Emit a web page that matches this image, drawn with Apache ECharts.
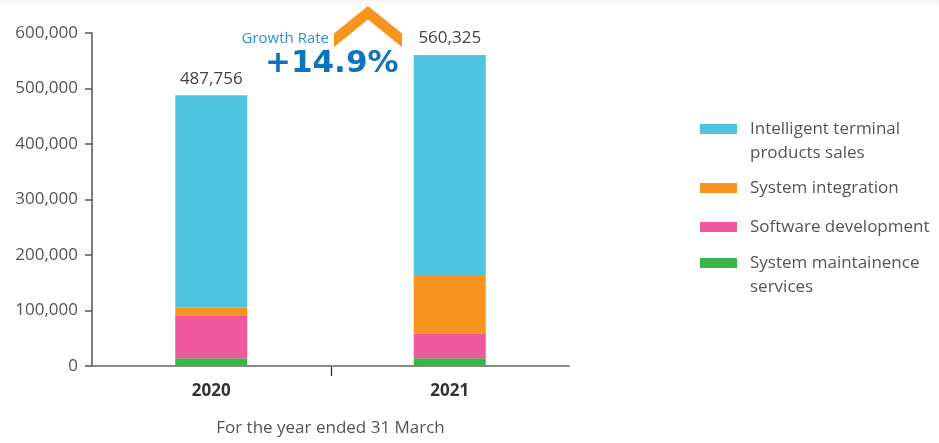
<!DOCTYPE html>
<html>
<head>
<meta charset="utf-8">
<script src="https://cdn.jsdelivr.net/npm/echarts@6/dist/echarts.min.js"></script>
<style>
  html, body { margin: 0; padding: 0; background: #fff; }
  #chart { width: 939px; height: 443px; }
</style>
</head>
<body>
<div id="chart"></div>
<script>
// data
var years = ['2020', '2021'];
var totals = [487756, 560325];
var maintenance = [14000, 14000];
var software = [76000, 45000];
var integration = [15000, 103000];
var terminal = [382756, 398325];   // total minus the three lower parts
var yTicks = [0, 100000, 200000, 300000, 400000, 500000, 600000];

var seriesNames = ['System maintainence services', 'Software development', 'System integration', 'Intelligent terminal products sales'];
var legendLabels = ['System maintainence\nservices', 'Software development', 'System integration', 'Intelligent terminal\nproducts sales'];
var colors = ['#3bb54a', '#ef5a9f', '#f7941d', '#4fc4e0'];

var font = '"Open Sans", "Noto Sans", sans-serif';
var growth = '+' + ((totals[1] / totals[0] - 1) * 100).toFixed(1) + '%';

function fmt(v) { return v.toLocaleString('en-US'); }

var myChart = echarts.init(document.getElementById('chart'), null, { renderer: 'canvas' });

var values = [maintenance, software, integration, terminal];
var series = values.map(function (d, i) {
    var s = {
        name: seriesNames[i],
        type: 'bar',
        stack: 'total',
        barWidth: 72,
        data: d,
        itemStyle: { color: colors[i] },
        emphasis: { disabled: true }
    };
    if (i === values.length - 1) {
        s.label = {
            show: true,
            position: 'top',
            distance: 8,
            fontFamily: font,
            fontSize: 17,
            color: '#444',
            formatter: function (p) { return fmt(totals[p.dataIndex]); }
        };
    }
    return s;
});

// one legend per item; two-line entries get an empty first line so the
// icon sits level with the first real line
var legendOrder = [3, 2, 1, 0];
var legendIconY = [129, 188, 227, 263];
var legends = legendOrder.map(function (idx, k) {
    var twoLines = legendLabels[idx].indexOf('\n') >= 0;
    return {
        orient: 'vertical',
        left: 700,
        top: legendIconY[k] - (twoLines ? 36 : 12),
        padding: 0,
        icon: 'rect',
        itemWidth: 37,
        itemHeight: 10,
        itemGap: 0,
        selectedMode: false,
        data: [seriesNames[idx]],
        formatter: function () { return (twoLines ? '\n' : '') + legendLabels[idx]; },
        textStyle: {
            fontFamily: font,
            fontSize: 17,
            color: '#555',
            lineHeight: 24,
            padding: [0, 0, 0, 8]
        }
    };
});

var option = {
    animation: false,
    backgroundColor: '#fff',
    grid: { left: 92, width: 477, top: 33, height: 333, containLabel: false },
    legend: legends,
    xAxis: {
        type: 'category',
        data: years,
        boundaryGap: true,
        name: 'For the year ended 31 March',
        nameLocation: 'middle',
        nameGap: 54,
        nameTextStyle: { fontFamily: font, fontSize: 17, color: '#555' },
        axisLine: { lineStyle: { color: '#8a8a8a', width: 2 } },
        axisTick: { show: false },
        axisLabel: {
            margin: 17,
            fontFamily: font,
            fontSize: 17,
            fontWeight: 'bold',
            color: '#333'
        }
    },
    yAxis: {
        type: 'value',
        min: yTicks[0],
        max: yTicks[yTicks.length - 1],
        interval: yTicks[1] - yTicks[0],
        splitLine: { show: false },
        axisLine: { show: true, lineStyle: { color: '#555', width: 1.5 } },
        axisTick: { show: true, length: 7, lineStyle: { color: '#555', width: 1.5 } },
        axisLabel: {
            margin: 14,
            fontFamily: font,
            fontSize: 17,
            color: '#555',
            formatter: fmt
        }
    },
    graphic: [
        {
            type: 'rect',
            shape: { x: 0, y: 0, width: 939, height: 6 },
            style: {
                fill: new echarts.graphic.LinearGradient(0, 0, 0, 1, [
                    { offset: 0, color: '#f4f4f1' },
                    { offset: 1, color: '#ffffff' }
                ])
            },
            silent: true
        },
        {
            type: 'polygon',
            shape: { points: [[368, 6], [402, 33.5], [402, 47], [368, 19.5], [334, 47], [334, 33.5]] },
            style: { fill: '#f7941d' },
            silent: true
        },
        {
            type: 'text',
            style: {
                x: 329,
                y: 39,
                align: 'right',
                verticalAlign: 'middle',
                text: 'Growth Rate',
                fontFamily: font,
                fontSize: 15,
                fill: '#2b8fd6'
            }
        },
        {
            type: 'text',
            style: {
                x: 265,
                y: 63.5,
                align: 'left',
                verticalAlign: 'middle',
                text: growth,
                fontFamily: '"DejaVu Sans", sans-serif',
                fontSize: 31,
                fontWeight: 'bold',
                fill: '#0b74be'
            }
        }
    ],
    series: series
};

myChart.setOption(option);

// single tick between the two years, placed from the axis scale
var p0 = myChart.convertToPixel({ xAxisIndex: 0, yAxisIndex: 0 }, [0, 0]);
var p1 = myChart.convertToPixel({ xAxisIndex: 0, yAxisIndex: 0 }, [1, 0]);
var midX = Math.round((p0[0] + p1[0]) / 2) + 0.5;
myChart.setOption({
    graphic: [{
        id: 'midTick',
        type: 'line',
        shape: { x1: midX, y1: p0[1] + 1, x2: midX, y2: p0[1] + 10 },
        style: { stroke: '#222', lineWidth: 1.2 },
        silent: true
    }]
});

window.onresize = function () { myChart.resize(); };
</script>
</body>
</html>
